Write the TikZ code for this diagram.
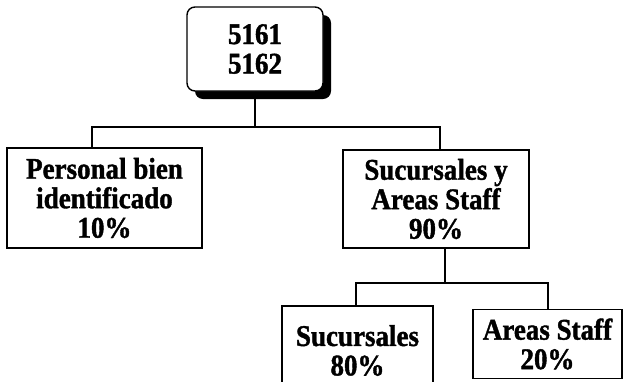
\documentclass[tikz,border=0pt]{standalone}
\usepackage{fontspec}
\setmainfont{Liberation Serif}[BoldFeatures={FakeBold=1.3,FakeStretch=0.9}]
\usetikzlibrary{shadows}
\begin{document}
\begin{tikzpicture}[x=1pt,y=-1pt,
  box/.style={draw, line width=1.4pt, align=center, inner sep=0pt,
    font=\bfseries\fontsize{30}{29.5}\selectfont},
  conn/.style={line width=1.3pt}]
\useasboundingbox (0,0) rectangle (623,381);
\node[box, rounded corners=8pt, minimum width=136pt, minimum height=84pt,
  fill=white, drop shadow={shadow xshift=8pt, shadow yshift=-8pt, fill=black, opacity=1}]
  (T) at (255,49) {5161\\5162};
\node[box, minimum width=195pt, minimum height=100pt] (L) at (104.5,198)
  {Personal bien\\identificado\\10\%};
\node[box, minimum width=186pt, minimum height=98pt] (R) at (436,199)
  {Sucursales y\\Areas Staff\\90\%};
\node[box, minimum width=151pt, minimum height=89pt] (S) at (357.5,350.5)
  {Sucursales\\80\%};
\node[box, minimum width=149pt, minimum height=69pt] (A) at (547.5,344)
  {Areas Staff\\20\%};
\coordinate (j0) at (255,127);
\coordinate (j1) at (445,283);
\draw[conn] (T.south) -- (j0);
\draw[conn] ([xshift=-12.5pt]L.north) |- (j0) -| ([xshift=4pt]R.north);
\draw[conn] (R.south -| j1) -- (j1);
\draw[conn] ([xshift=-1.5pt]S.north) |- (j1) -| ([xshift=0.5pt]A.north);
\end{tikzpicture}
\end{document}
